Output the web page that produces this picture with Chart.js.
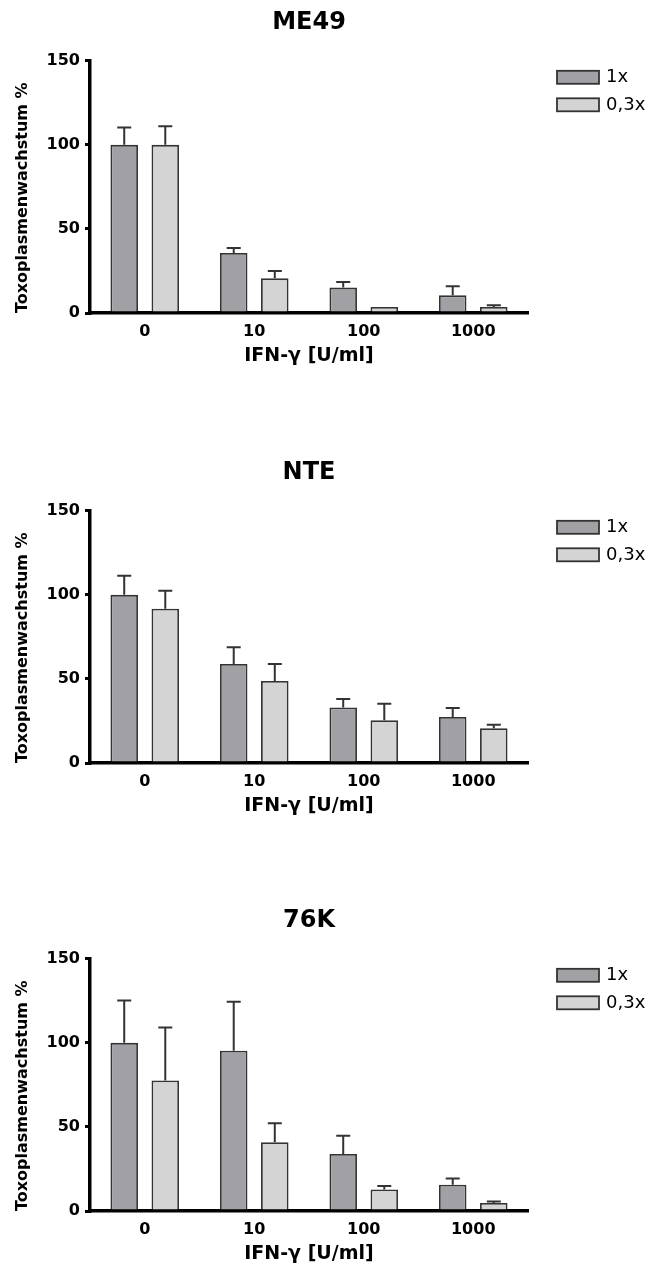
<!DOCTYPE html>
<html>
<head>
<meta charset="utf-8">
<script src="https://cdn.jsdelivr.net/npm/chart.js@4.4.1/dist/chart.umd.min.js"></script>
<style>
  html, body { margin: 0; padding: 0; background: #fff; overflow: hidden; }
  .panel { position: absolute; left: 0; width: 653px; height: 370px; }
</style>
</head>
<body>
<div class="panel" style="top:0px"><canvas id="c1" width="653" height="370"></canvas></div>
<div class="panel" style="top:450px"><canvas id="c2" width="653" height="370"></canvas></div>
<div class="panel" style="top:898px"><canvas id="c3" width="653" height="370"></canvas></div>
<script>
var doses = ['0', '10', '100', '1000'];
var yTicks = [0, 50, 100, 150];

// ME49
var me49_1x = [100, 35.7, 15.1, 10.5];
var me49_1x_err = [10.4, 3.0, 3.4, 5.4];
var me49_03x = [100, 20.6, 3.6, 3.6];
var me49_03x_err = [11.0, 4.4, 0, 1.0];

// NTE
var nte_1x = [100, 58.9, 33.0, 27.4];
var nte_1x_err = [11.3, 10.0, 5.1, 5.3];
var nte_03x = [91.7, 48.8, 25.4, 20.7];
var nte_03x_err = [10.7, 10.1, 9.9, 2.1];

// 76K
var k76_1x = [100, 95.3, 33.9, 15.6];
var k76_1x_err = [25.2, 29.2, 10.8, 3.7];
var k76_03x = [77.6, 40.9, 12.8, 4.8];
var k76_03x_err = [31.5, 11.3, 2.0, 0.8];

var FONT = '"DejaVu Sans", sans-serif';

// upper error bars (mean + SEM) on top of each bar
var errorBars = {
	id: 'errorBars',
	afterDatasetsDraw: function(chart) {
		var ctx = chart.ctx;
		var y = chart.scales.y;
		ctx.save();
		ctx.strokeStyle = '#333';
		ctx.lineWidth = 2;
		chart.data.datasets.forEach(function(ds, i) {
			var meta = chart.getDatasetMeta(i);
			meta.data.forEach(function(bar, j) {
				var err = ds.errors[j];
				if (!err) return;
				var top = y.getPixelForValue(ds.data[j] + err);
				ctx.beginPath();
				ctx.moveTo(bar.x, bar.y);
				ctx.lineTo(bar.x, top);
				ctx.moveTo(bar.x - 7, top);
				ctx.lineTo(bar.x + 7, top);
				ctx.stroke();
			});
		});
		ctx.restore();
	}
};

// legend to the right of the plot
var sideLegend = {
	id: 'sideLegend',
	afterDraw: function(chart) {
		var ctx = chart.ctx;
		var area = chart.chartArea;
		ctx.save();
		chart.data.datasets.forEach(function(ds, i) {
			var x = area.right + 29;
			var y = area.top + 10 + i * 27.5;
			ctx.fillStyle = ds.backgroundColor;
			ctx.fillRect(x, y, 42, 13);
			ctx.strokeStyle = '#333';
			ctx.lineWidth = 1.8;
			ctx.strokeRect(x, y, 42, 13);
			ctx.fillStyle = '#000';
			ctx.font = '18px ' + FONT;
			ctx.textBaseline = 'middle';
			ctx.textAlign = 'left';
			ctx.fillText(ds.label, x + 49, y + 7);
		});
		ctx.restore();
	}
};

function makeChart(id, title, a, aErr, b, bErr) {
	var ctx = document.getElementById(id);
	return new Chart(ctx, {
		type: 'bar',
		data: {
			labels: doses,
			datasets: [
				{
					label: '1x',
					data: a,
					errors: aErr,
					backgroundColor: '#a0a0a5',
					borderColor: '#333',
					borderWidth: 1.8,
					categoryPercentage: 0.75,
					barPercentage: 0.67
				},
				{
					label: '0,3x',
					data: b,
					errors: bErr,
					backgroundColor: '#d4d4d4',
					borderColor: '#333',
					borderWidth: 1.8,
					categoryPercentage: 0.75,
					barPercentage: 0.67
				}
			]
		},
		options: {
			responsive: false,
			animation: false,
			layout: { padding: { left: 0, right: 125, top: 0, bottom: 0 } },
			plugins: {
				legend: { display: false },
				tooltip: { enabled: false },
				title: {
					display: true,
					text: title,
					fullSize: false,
					color: '#000',
					font: { family: FONT, size: 24, weight: 'bold' },
					padding: { top: 8, bottom: 24 }
				}
			},
			scales: {
				x: {
					grid: { display: false, drawTicks: false },
					border: { display: true, color: '#000', width: 3.5 },
					ticks: { color: '#000', padding: 9, font: { family: FONT, size: 16, weight: 'bold' } },
					title: {
						display: true,
						text: 'IFN-γ [U/ml]',
						color: '#000',
						font: { family: FONT, size: 19, weight: 'bold' },
						padding: { top: 0, bottom: 3 }
					},
					afterFit: function(scale) { scale.height = 57; }
				},
				y: {
					min: 0,
					max: 150,
					afterBuildTicks: function(scale) {
						scale.ticks = yTicks.map(function(v) { return { value: v }; });
					},
					grid: { display: true, drawOnChartArea: false, drawTicks: true, tickLength: 5, color: '#000', lineWidth: 3 },
					border: { display: true, color: '#000', width: 3.5 },
					ticks: { color: '#000', padding: 5, font: { family: FONT, size: 16, weight: 'bold' } },
					title: {
						display: true,
						text: 'Toxoplasmenwachstum %',
						align: 'start',
						color: '#000',
						font: { family: FONT, size: 16, weight: 'bold' },
						padding: { top: 13, bottom: 0 }
					},
					afterFit: function(scale) { scale.width = 90; }
				}
			}
		},
		plugins: [errorBars, sideLegend]
	});
}

makeChart('c1', 'ME49', me49_1x, me49_1x_err, me49_03x, me49_03x_err);
makeChart('c2', 'NTE', nte_1x, nte_1x_err, nte_03x, nte_03x_err);
makeChart('c3', '76K', k76_1x, k76_1x_err, k76_03x, k76_03x_err);
</script>
</body>
</html>
